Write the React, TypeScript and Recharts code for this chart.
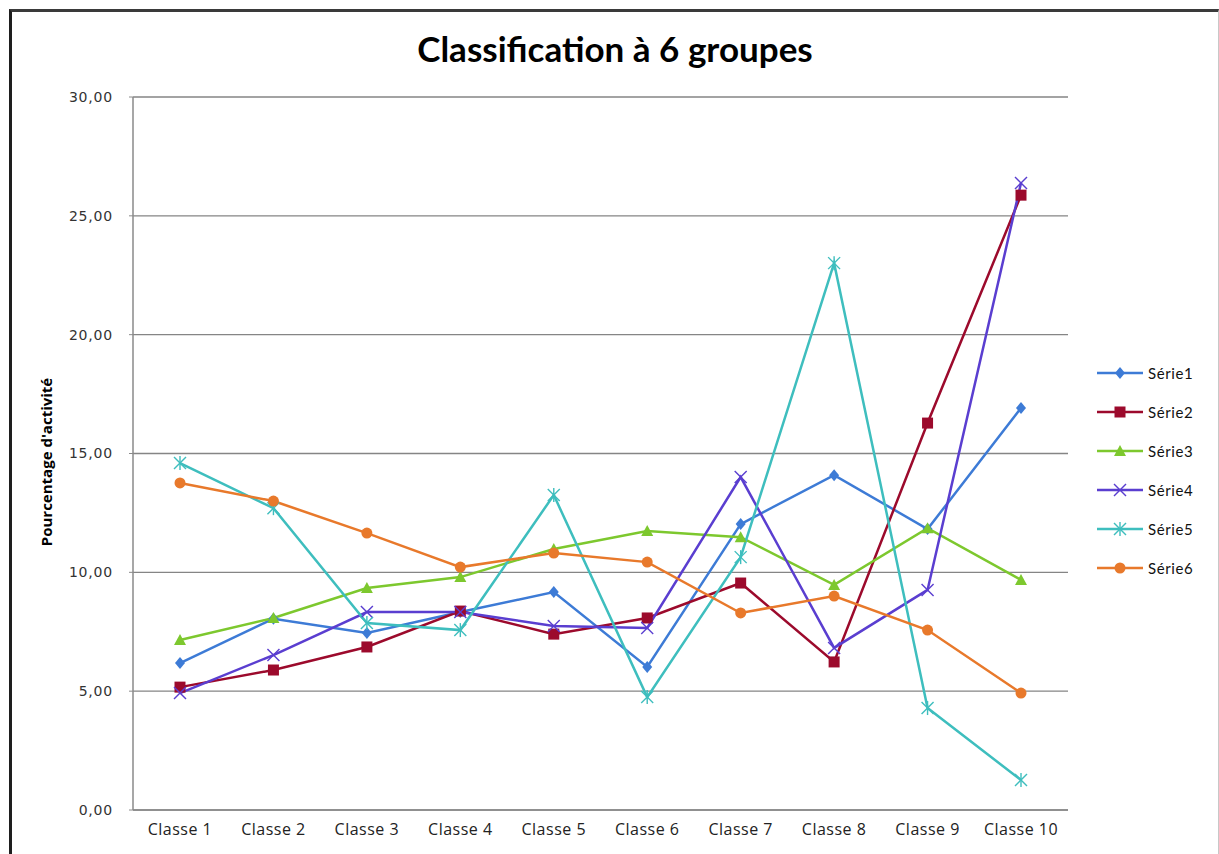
import React from "react";
import { LineChart, Line, XAxis, YAxis, CartesianGrid } from "recharts";

const categories = ["Classe 1", "Classe 2", "Classe 3", "Classe 4", "Classe 5", "Classe 6", "Classe 7", "Classe 8", "Classe 9", "Classe 10"];
const serie1 = [6.18, 8.05, 7.45, 8.33, 9.17, 6.02, 12.03, 14.09, 11.82, 16.91];
const serie2 = [5.17, 5.89, 6.86, 8.37, 7.4, 8.08, 9.55, 6.23, 16.28, 25.87];
const serie3 = [7.15, 8.08, 9.34, 9.8, 10.98, 11.74, 11.48, 9.47, 11.86, 9.68];
const serie4 = [4.92, 6.52, 8.33, 8.33, 7.74, 7.66, 14.01, 6.82, 9.26, 26.38];
const serie5 = [14.6, 12.7, 7.87, 7.57, 13.25, 4.75, 10.64, 23.01, 4.29, 1.26];
const serie6 = [13.76, 13.0, 11.65, 10.22, 10.81, 10.43, 8.29, 9.0, 7.57, 4.92];
const yTicks = [0, 5, 10, 15, 20, 25, 30];
const title = "Classification à 6 groupes";
const yLabel = "Pourcentage d'activité";

type MarkerType = "diamond" | "square" | "triangle" | "x" | "star" | "circle";

const series: { key: string; name: string; color: string; marker: MarkerType; values: number[] }[] = [
  { key: "s1", name: "Série1", color: "#3D7BD6", marker: "diamond", values: serie1 },
  { key: "s2", name: "Série2", color: "#9C0A2C", marker: "square", values: serie2 },
  { key: "s3", name: "Série3", color: "#7DC82E", marker: "triangle", values: serie3 },
  { key: "s4", name: "Série4", color: "#5A3ED0", marker: "x", values: serie4 },
  { key: "s5", name: "Série5", color: "#3EBEBE", marker: "star", values: serie5 },
  { key: "s6", name: "Série6", color: "#E8792B", marker: "circle", values: serie6 },
];

const data = categories.map((c, i) => {
  const row: Record<string, string | number> = { name: c };
  series.forEach((s) => {
    row[s.key] = s.values[i];
  });
  return row;
});

function MarkerShape({ cx, cy, type, color }: { cx: number; cy: number; type: MarkerType; color: string }) {
  switch (type) {
    case "diamond":
      return <polygon points={`${cx},${cy - 6} ${cx + 5},${cy} ${cx},${cy + 6} ${cx - 5},${cy}`} fill={color} />;
    case "square":
      return <rect x={cx - 5.5} y={cy - 5.5} width={11} height={11} fill={color} />;
    case "triangle":
      return <polygon points={`${cx},${cy - 6} ${cx + 6},${cy + 5} ${cx - 6},${cy + 5}`} fill={color} />;
    case "x":
      return (
        <g stroke={color} strokeWidth={1.4}>
          <line x1={cx - 6} y1={cy - 6} x2={cx + 6} y2={cy + 6} />
          <line x1={cx - 6} y1={cy + 6} x2={cx + 6} y2={cy - 6} />
        </g>
      );
    case "star":
      return (
        <g stroke={color} strokeWidth={1.4}>
          <line x1={cx - 6} y1={cy - 6} x2={cx + 6} y2={cy + 6} />
          <line x1={cx - 6} y1={cy + 6} x2={cx + 6} y2={cy - 6} />
          <line x1={cx} y1={cy - 7} x2={cx} y2={cy + 7} />
        </g>
      );
    case "circle":
    default:
      return <circle cx={cx} cy={cy} r={5.5} fill={color} />;
  }
}

const fmt = (v: number) => v.toFixed(2).replace(".", ",");

export default function App() {
  return (
    <div
      style={{
        position: "fixed",
        left: 9,
        top: 9,
        width: 1206,
        height: 860,
        borderLeft: "3px solid #1e1e1e",
        borderTop: "3px solid #3a3a3a",
        borderRight: "1px solid #c8c8c8",
        background: "#fff",
        fontFamily: "Lato, sans-serif",
      }}
    >
      <div
        style={{
          position: "absolute",
          left: 0,
          width: 1206,
          top: 15,
          textAlign: "center",
          fontSize: 35,
          fontWeight: 700,
          color: "#000",
          fontFamily: "Lato, sans-serif",
        }}
      >
        {title}
      </div>
      <div
        style={{
          position: "absolute",
          left: 34,
          top: 450,
          transform: "translate(-50%, -50%) rotate(-90deg)",
          whiteSpace: "nowrap",
          fontSize: 15,
          fontWeight: 700,
          color: "#000",
          fontFamily: "'Open Sans', sans-serif",
        }}
      >
        {yLabel}
      </div>
      <LineChart width={1206} height={840} data={data} margin={{ top: 85, right: 150, left: 0, bottom: 12 }}>
        <CartesianGrid vertical={false} stroke="#858585" strokeWidth={1.3} />
        <XAxis
          dataKey="name"
          padding={{ left: 47, right: 47 }}
          axisLine={{ stroke: "#8a8a8a", strokeWidth: 1.5 }}
          tickLine={false}
          height={30}
          tickMargin={8}
          tick={{ fill: "#222", fontSize: 16, fontFamily: "'Open Sans', sans-serif", letterSpacing: 0.5 }}
          interval={0}
        />
        <YAxis
          width={121}
          domain={[0, 30]}
          ticks={yTicks}
          tickFormatter={fmt}
          axisLine={{ stroke: "#8a8a8a", strokeWidth: 1.5 }}
          tickLine={{ stroke: "#8a8a8a" }}
          tickSize={4}
          tickMargin={16}
          tick={{ fill: "#333", fontSize: 14, fontFamily: "'DejaVu Sans', sans-serif", letterSpacing: 0.8 }}
        />
        {series.map((s) => (
          <Line
            key={s.key}
            dataKey={s.key}
            name={s.name}
            stroke={s.color}
            strokeWidth={2.5}
            isAnimationActive={false}
            dot={(p: any) => (
              <MarkerShape key={`${s.key}-${p.index}`} cx={p.cx} cy={p.cy} type={s.marker} color={s.color} />
            )}
            activeDot={false}
          />
        ))}
      </LineChart>
      <div style={{ position: "absolute", left: 1084, top: 341 }}>
        {series.map((s) => (
          <div key={s.key} style={{ display: "flex", alignItems: "center", height: 39 }}>
            <svg width={48} height={16} style={{ display: "block" }}>
              <line x1={1} y1={8} x2={47} y2={8} stroke={s.color} strokeWidth={2.5} />
              <MarkerShape cx={24} cy={8} type={s.marker} color={s.color} />
            </svg>
            <span style={{ marginLeft: 4, fontSize: 15, color: "#111", letterSpacing: 0.6 }}>{s.name}</span>
          </div>
        ))}
      </div>
    </div>
  );
}
